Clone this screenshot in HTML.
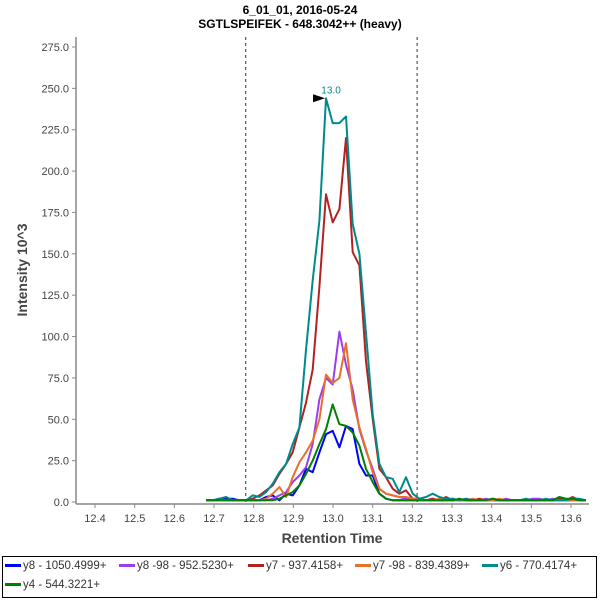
<!DOCTYPE html>
<html><head><meta charset="utf-8"><style>
body{margin:0;background:#fff;font-family:"Liberation Sans",sans-serif;}
#wrap{position:relative;width:600px;height:600px;overflow:hidden}
.t{position:absolute;width:600px;text-align:center;font-weight:bold;font-size:12px;color:#000}
#legend{position:absolute;left:2px;top:556px;width:593px;height:40px;border:1px solid #000;font-size:11.5px;color:#333}
.li{position:absolute;white-space:nowrap}
.li span{display:inline-block;width:16px;height:3px;vertical-align:middle;margin-right:2px}
</style></head><body>
<div id="wrap">
<div class="t" style="top:3px">6_01_01, 2016-05-24</div>
<div class="t" style="top:17px">SGTLSPEIFEK - 648.3042++ (heavy)</div>
<svg id="svg" width="600" height="556" style="position:absolute;left:0;top:0"></svg>
<div id="legend">
<div class="li" style="left:2px;top:3px"><span style="background:#0000ff"></span>y8 - 1050.4999+</div>
<div class="li" style="left:116px;top:3px"><span style="background:#9a3ef0"></span>y8 -98 - 952.5230+</div>
<div class="li" style="left:245px;top:3px"><span style="background:#b22222"></span>y7 - 937.4158+</div>
<div class="li" style="left:352px;top:3px"><span style="background:#e8702a"></span>y7 -98 - 839.4389+</div>
<div class="li" style="left:479px;top:3px"><span style="background:#008b8b"></span>y6 - 770.4174+</div>
<div class="li" style="left:2px;top:22px"><span style="background:#008000"></span>y4 - 544.3221+</div>
</div>
</div>
<script>
const xTicks=[12.4,12.5,12.6,12.7,12.8,12.9,13.0,13.1,13.2,13.3,13.4,13.5,13.6];
const yTicks=[0,25,50,75,100,125,150,175,200,225,250,275];
const tStart=12.68, tStep=0.0168;
const blue  =[1,1,2,2,2,1,1,1,1,3,4,1,5,4,10,20,18,30,41,43,33,46,44,23,16,16,5,2,1,1,1,1,1,1,1,1,1,1,1,1,1,1,1,1,1,1,1,1,1,1,1,1,1,1,1,1,1,1];
const purple=[1,1,1,1,1,1,1,1,1,1,2,4,6,12,16,21,35,62,75,71,103,83,68,44,31,20,8,5,4,3,2,2,2,1,2,1,1,2,1,2,1,1,2,1,1,2,1,1,1,2,2,1,2,1,1,1,1,1];
const red   =[1,1,1,1,1,1,1,2,4,7,10,17,23,30,45,60,80,130,186,169,177,220,151,143,85,50,20,15,8,5,7,2,2,1,2,1,3,1,1,1,1,2,1,2,1,1,1,1,1,1,1,1,1,2,1,3,1,1];
const orange=[1,1,1,1,1,1,1,1,1,2,5,9,3,15,24,30,37,50,77,72,75,96,62,45,32,18,8,5,4,3,3,2,2,1,1,2,1,1,1,1,2,1,1,1,2,1,1,1,1,1,1,1,1,1,1,1,1,1];
const teal  =[1,1,2,3,1,1,1,4,3,6,11,18,23,35,45,92,134,170,244,229,229,233,168,150,102,53,23,15,14,6,15,5,2,3,5,3,2,2,1,2,1,1,1,2,1,1,1,1,2,1,1,2,1,1,1,2,2,1];
const green =[1,1,1,1,1,1,1,1,1,1,1,2,4,6,10,17,25,35,44,59,47,46,42,34,20,12,5,2,1,1,1,1,1,1,1,1,1,1,2,1,1,1,1,2,1,1,1,1,1,1,1,1,1,3,2,2,1,1];
const series=[[blue,"#0000ff","y8"],[purple,"#9a3ef0","y8-98"],[red,"#b22222","y7"],[orange,"#e8702a","y7-98"],[teal,"#008b8b","y6"],[green,"#008000","y4"]];
const boundaries=[12.78,13.212];
const L=76,R=589,T=37,B=504;
const X=t=>95+(t-12.4)*396.7;
const Y=v=>502-v*(455/275);
const svg=document.getElementById('svg');const NS='http://www.w3.org/2000/svg';
function mk(tag,attrs,txt){const e=document.createElementNS(NS,tag);for(const k in attrs)e.setAttribute(k,attrs[k]);if(txt!=null)e.textContent=txt;svg.appendChild(e);return e;}
// axes
let e=mk('line',{x1:L,y1:T,x2:L,y2:B,stroke:'#888','stroke-width':1.5});


e=mk('line',{x1:L,y1:B,x2:R,y2:B,stroke:'#888','stroke-width':1.5});


yTicks.forEach(v=>{const y=Y(v);mk('line',{x1:L-4,y1:y,x2:L,y2:y,stroke:'#888'});
 e=mk('text',{x:L-7,y:y+4,'text-anchor':'end','font-size':11,fill:'#444'},v.toFixed(1));
 
 });
xTicks.forEach(v=>{const x=X(v);mk('line',{x1:x,y1:B,x2:x,y2:B+4,stroke:'#888'});
 e=mk('text',{x:x,y:B+18,'text-anchor':'middle','font-size':11,fill:'#444'},v.toFixed(1));
 
 });
e=mk('text',{x:332,y:543,'text-anchor':'middle','font-size':14,'font-weight':'bold',fill:'#444'},'Retention Time');


e=mk('text',{x:0,y:0,transform:'translate(27,270) rotate(-90)','text-anchor':'middle','font-size':14,'font-weight':'bold',fill:'#444'},'Intensity 10^3');


boundaries.forEach(b=>{e=mk('line',{x1:X(b),y1:T,x2:X(b),y2:B,stroke:'#333','stroke-dasharray':'3,3'});
 
 });
series.forEach(([d,c,n])=>{const pts=d.map((v,i)=>X(tStart+i*tStep).toFixed(1)+','+Y(v).toFixed(1)).join(' ');
 e=mk('polyline',{points:pts,fill:'none',stroke:c,'stroke-width':2,'stroke-linejoin':'round'});
 
 });
// peak label
let mi=0;teal.forEach((v,i)=>{if(v>teal[mi])mi=i;});
const px=X(tStart+mi*tStep),py=Y(teal[mi]);
e=mk('polygon',{points:`${px-1},${py} ${px-13},${py-4} ${px-13},${py+4}`,fill:'#000'});


e=mk('text',{x:px+5,y:py-5,'text-anchor':'middle','font-size':10,fill:'#008b8b'},(tStart+mi*tStep).toFixed(1));


</script>
</body></html>
